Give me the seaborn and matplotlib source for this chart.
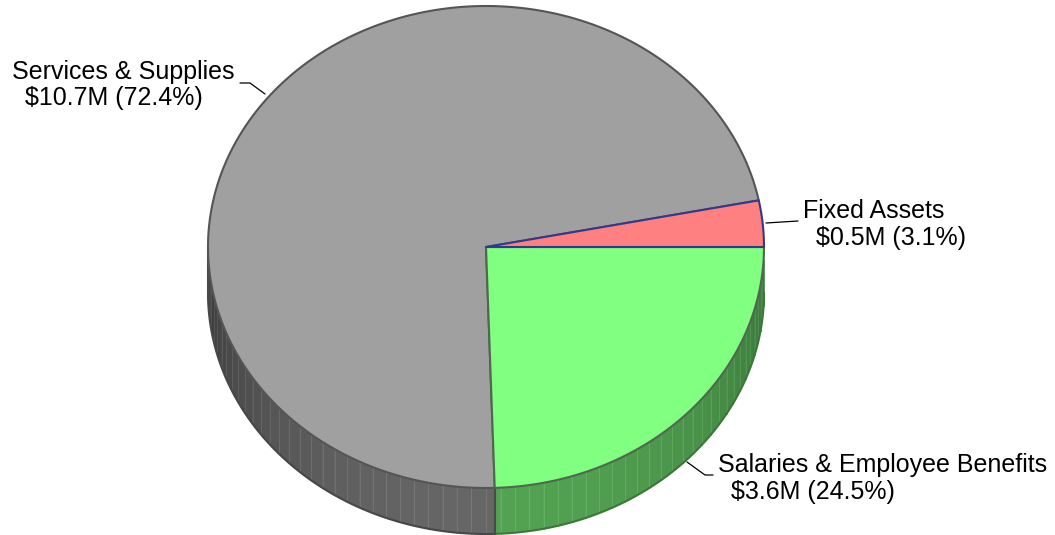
import numpy as np
import matplotlib
matplotlib.use("Agg")
import matplotlib.pyplot as plt
from matplotlib.patches import Polygon
import seaborn as sns

# Budget breakdown
categories = ["Fixed Assets", "Services & Supplies", "Salaries & Employee Benefits"]
amounts_m = [0.5, 10.7, 3.6]
percents = [3.1, 72.4, 24.5]

sns.set_theme(style="white")
plt.rcParams["font.family"] = ["Liberation Sans", "DejaVu Sans"]

top_colors = ["#ff8080", "#a0a0a0", "#80ff80"]
edge_colors = ["#33398a", "#555555", "#4f684f"]

fig = plt.figure(figsize=(10.55, 5.35), dpi=100)
ax = fig.add_axes([0, 0, 1, 1])
ax.set_xlim(0, 1055)
ax.set_ylim(535, 0)
ax.axis("off")

cx, cy, rx, ry, depth = 486.0, 247.0, 278.0, 241.0, 46.0


def pt(theta_deg, dy=0.0):
    t = np.radians(theta_deg)
    return cx + rx * np.cos(t), cy - ry * np.sin(t) + dy


# slice angle ranges, counter-clockwise from 3 o'clock
bounds = np.concatenate([[0.0], np.cumsum(percents) / 100.0 * 360.0])


def slice_of(theta):
    for i in range(len(percents)):
        if bounds[i] <= theta % 360 < bounds[i + 1]:
            return i
    return len(percents) - 1


def side_color(i, theta):
    f = abs(np.sin(np.radians(theta)))
    if i == 2:
        return ((56 + 26 * f) / 255, (115 + 47 * f) / 255, (56 + 26 * f) / 255)
    if i == 0:
        return ((150 + 60 * f) / 255, (70 + 30 * f) / 255, (70 + 30 * f) / 255)
    g = (56 + 46 * f) / 255
    return (g, g, g)


# front wall, split into narrow facets
step = 3.0
edges = sorted(set(list(np.arange(180.0, 360.0 + 1e-9, step)) +
                   [b for b in bounds if 180 < b < 360]))
for a0, a1 in zip(edges[:-1], edges[1:]):
    mid = 0.5 * (a0 + a1)
    i = slice_of(mid)
    arc = np.linspace(a0, a1, 6)
    top = [pt(a) for a in arc]
    bot = [pt(a, depth) for a in arc[::-1]]
    ax.add_patch(Polygon(top + bot, closed=True, facecolor=side_color(i, mid),
                         edgecolor=side_color(i, mid), lw=0.4, zorder=1))
    light = tuple(min(1, c + 0.08) for c in side_color(i, a0))
    x0, y0 = pt(a0)
    ax.plot([x0, x0], [y0, y0 + depth], color=light, lw=0.6, zorder=2)

# bottom rim of the wall
for i in range(len(percents)):
    lo, hi = max(bounds[i], 180.0), min(bounds[i + 1], 360.0)
    if hi <= lo:
        continue
    arc = np.linspace(lo, hi, 120)
    xs, ys = zip(*[pt(a, depth) for a in arc])
    dark = tuple(c * 0.8 for c in side_color(i, 0.5 * (lo + hi)))
    ax.plot(xs, ys, color=dark, lw=1.5, zorder=3)

# vertical seams at slice boundaries and at the left extreme
for a in [180.0] + [b for b in bounds if 180 < b < 360]:
    x0, y0 = pt(a)
    ax.plot([x0, x0], [y0, y0 + depth], color="#4a4a4a", lw=1.5, zorder=3)

# top face
for i in range(len(percents)):
    arc = np.linspace(bounds[i], bounds[i + 1], 200)
    poly = [(cx, cy)] + [pt(a) for a in arc]
    ax.add_patch(Polygon(poly, closed=True, facecolor=top_colors[i],
                         edgecolor=edge_colors[i], lw=1.5, joinstyle="round",
                         zorder=4 + (1 if i == 0 else 0)))

# labels with leader lines
label_pos = {
    "Services & Supplies": (12, 79),
    "Fixed Assets": (803, 218),
    "Salaries & Employee Benefits": (718, 472),
}
leaders = {
    "Services & Supplies": [(240, 83), (250, 83), (265, 94)],
    "Fixed Assets": [(766, 223), (798, 221)],
    "Salaries & Employee Benefits": [(687, 462), (705, 475), (713, 475)],
}
for name, amt, pct in zip(categories, amounts_m, percents):
    x, y = label_pos[name]
    ax.text(x, y, name, fontsize=18, color="#000000", ha="left", va="baseline", zorder=10)
    ax.text(x + 13, y + 26.5, f"${amt:.1f}M ({pct:.1f}%)", fontsize=18,
            color="#000000", ha="left", va="baseline", zorder=10)
    lx, ly = zip(*leaders[name])
    ax.plot(lx, ly, color="#000000", lw=0.9, zorder=10)

fig.savefig("out.png", dpi=100)
